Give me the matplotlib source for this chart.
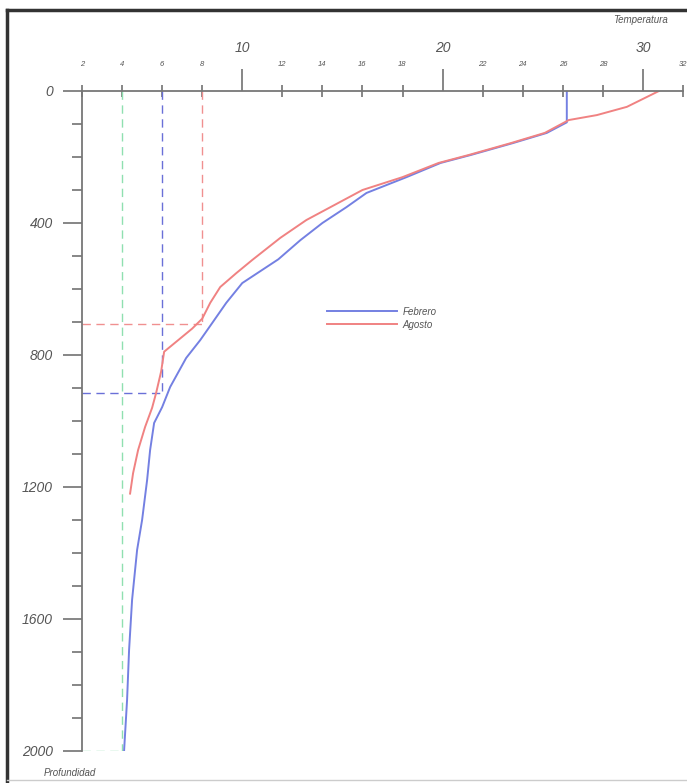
import numpy as np
import matplotlib
matplotlib.use('Agg')
import matplotlib.pyplot as plt
from matplotlib.lines import Line2D

plt.rcParams['font.family'] = ['Liberation Sans', 'DejaVu Sans']

# perfil de temperatura - Febrero
feb_depth = [0, 95, 127, 158, 194, 218, 261, 309, 352, 400, 452, 510, 550, 582, 642,
             703, 755, 809, 897, 958, 1006, 1088, 1179, 1300, 1391, 1542, 1694, 1845, 2000]
feb_temp = [26.2, 26.2, 25.2, 23.5, 21.4, 19.9, 18.2, 16.2, 15.2, 14.0, 12.9, 11.8, 10.8, 10.0, 9.2,
            8.5, 7.9, 7.2, 6.4, 6.0, 5.6, 5.4, 5.25, 5.0, 4.75, 4.5, 4.35, 4.25, 4.1]

# perfil de temperatura - Agosto
ago_depth = [0, 18, 48, 73, 88, 127, 158, 194, 218, 261, 300, 352, 391, 445, 512, 552,
             594, 642, 690, 720, 790, 850, 915, 960, 1018, 1088, 1158, 1220]
ago_temp = [30.8, 30.2, 29.2, 27.7, 26.3, 25.1, 23.4, 21.3, 19.8, 18.0, 16.0, 14.4, 13.2, 11.9, 10.5, 9.7,
            8.9, 8.4, 8.0, 7.5, 6.1, 5.95, 5.7, 5.5, 5.15, 4.8, 4.55, 4.4]

# lineas de referencia (temperatura, profundidad)
ref_temp = [4, 6, 8]
ref_depth = [2000, 915, 706]
ref_color = ['#8fe0b0', '#6a70d8', '#f09090']

major_x = [10, 20, 30]
minor_x = [2, 4, 6, 8, 12, 14, 16, 18, 22, 24, 26, 28, 32]
major_y = [0, 400, 800, 1200, 1600, 2000]

blue = '#7480e2'
red = '#f08282'
gray = '#555555'

fig = plt.figure(figsize=(6.87, 7.83), dpi=100)
W, H = 687.0, 783.0
ax = fig.add_axes([82 / W, 1 - 751 / H, 601 / W, 660 / H])

ax.set_xlim(2, 32)
ax.set_ylim(2000, 0)

# lineas punteadas
for t, d, c in zip(ref_temp, ref_depth, ref_color):
    ax.plot([t, t], [0, d], color=c, lw=1.0, ls=(0, (6, 4)))
    ax.plot([2, t], [d, d], color=c, lw=1.0, ls=(0, (6, 4)))

ax.plot(feb_temp, feb_depth, color=blue, lw=1.4, label='Febrero')
ax.plot(ago_temp, ago_depth, color=red, lw=1.4, label='Agosto')

# ejes
for s in ['right', 'bottom']:
    ax.spines[s].set_visible(False)
for s in ['top', 'left']:
    ax.spines[s].set_color('#777777')
    ax.spines[s].set_linewidth(1.3)

ax.xaxis.tick_top()
ax.set_xticks(major_x)
ax.set_xticklabels([str(v) for v in major_x], fontsize=10, style='italic', color=gray)
ax.set_xticks(minor_x, minor=True)
ax.set_xticklabels([str(v) for v in minor_x], minor=True, fontsize=5.5, style='italic', color=gray)
ax.tick_params(axis='x', which='major', direction='out', length=16, width=1.1, color='#666666', pad=10)
ax.tick_params(axis='x', which='minor', direction='inout', length=9, width=1.1, color='#666666', pad=12)

ax.set_yticks(major_y)
ax.set_yticklabels([str(v) for v in major_y], fontsize=10, style='italic', color=gray)
ax.set_yticks(np.arange(100, 2000, 100), minor=True)
ax.tick_params(axis='y', which='major', direction='out', length=14, width=1.1, color='#666666', pad=7)
ax.tick_params(axis='y', which='minor', direction='out', length=7, width=1.1, color='#666666')

leg = ax.legend(loc='upper left', bbox_to_anchor=(322 / W, 1 - 302 / H), bbox_transform=fig.transFigure,
                frameon=False, handlelength=7.2, handletextpad=0.6, labelspacing=0.3,
                borderpad=0, prop={'size': 7, 'style': 'italic'})
for txt in leg.get_texts():
    txt.set_color(gray)

fig.text(640 / W, 1 - 20 / H, 'Temperatura', fontsize=7, style='italic', color=gray,
         ha='center', va='center')
fig.text(70 / W, 1 - 773 / H, 'Profundidad', fontsize=7, style='italic', color=gray,
         ha='center', va='center')

# marco de la imagen
fig.add_artist(Line2D([7 / W, 1], [1 - 10 / H, 1 - 10 / H], color='#333333', lw=2.5, zorder=10))
fig.add_artist(Line2D([7 / W, 7 / W], [0, 1 - 10 / H], color='#333333', lw=2.5, zorder=10))
fig.add_artist(Line2D([7 / W, 1], [1 - 780 / H, 1 - 780 / H], color='#cccccc', lw=1, zorder=10))

fig.savefig('out.png', dpi=100)
